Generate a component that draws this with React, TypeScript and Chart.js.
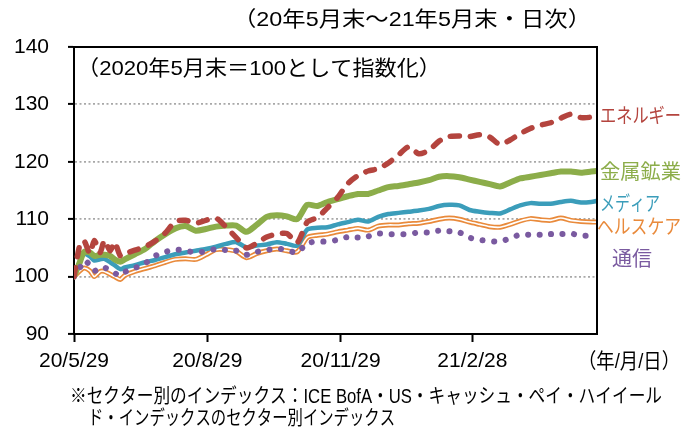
import React, { useEffect, useRef } from "react";
import { Chart, registerables } from "chart.js";

Chart.register(...registerables);

const dates = [
  "2020-05-29", "2020-06-02", "2020-06-05", "2020-06-09", "2020-06-12", "2020-06-16", "2020-06-19",
  "2020-06-23", "2020-06-26", "2020-06-30", "2020-07-03", "2020-07-10", "2020-07-17", "2020-07-24",
  "2020-07-31", "2020-08-07", "2020-08-14", "2020-08-21", "2020-08-28", "2020-09-04", "2020-09-11",
  "2020-09-18", "2020-09-25", "2020-10-02", "2020-10-09", "2020-10-16", "2020-10-23", "2020-10-30",
  "2020-11-06", "2020-11-13", "2020-11-20", "2020-11-27", "2020-12-04", "2020-12-11", "2020-12-18",
  "2020-12-25", "2021-01-01", "2021-01-08", "2021-01-15", "2021-01-22", "2021-01-29", "2021-02-05",
  "2021-02-12", "2021-02-19", "2021-02-26", "2021-03-05", "2021-03-12", "2021-03-19", "2021-03-26",
  "2021-04-02", "2021-04-09", "2021-04-16", "2021-04-23", "2021-04-30", "2021-05-07", "2021-05-14",
  "2021-05-21", "2021-05-25",
];

const energy = [
  100, 105.5, 106.2, 104.0, 106.3, 104.2, 106.3, 104.5, 106.0, 103.6, 104.0, 104.6, 105.2, 106.2,
  107.6, 109.6, 109.8, 109.3, 109.8, 110.2, 108.6, 106.8, 105.0, 105.8, 106.9, 107.4, 107.5, 105.9,
  109.5, 110.3, 112.0, 113.8, 116.2, 117.6, 118.4, 118.8, 119.8, 121.2, 122.6, 121.4, 122.0, 123.6,
  124.4, 124.5, 124.4, 124.7, 124.3, 123.0, 123.8, 124.9, 125.8, 126.4, 126.8, 127.6, 128.3, 127.7,
  127.8, 128.4,
];
const metals = [
  100, 102.5, 104.3, 104.2, 103.6, 103.8, 103.8, 103.6, 103.0, 102.6, 103.0, 103.9, 104.8, 106.2,
  107.4, 108.4, 108.8, 108.0, 108.3, 108.7, 108.9, 108.9, 107.8, 109.0, 110.4, 110.7, 110.5, 110.0,
  112.5, 112.3, 113.0, 113.5, 114.0, 114.4, 114.4, 115.0, 115.6, 115.8, 116.1, 116.4, 116.8, 117.4,
  117.5, 117.3, 116.9, 116.5, 116.1, 115.7, 116.4, 117.1, 117.4, 117.7, 118.0, 118.3, 118.3, 118.1,
  118.3, 118.4,
];
const media = [
  100, 102.5, 104.0, 103.5, 102.8, 103.0, 103.1, 102.5, 102.0, 101.3, 101.6, 102.0, 102.5, 102.9,
  103.4, 103.9, 104.2, 104.5, 104.8, 105.2, 105.7, 106.0, 105.1, 105.4, 105.6, 106.0, 105.7, 105.4,
  108.2, 108.5, 108.6, 109.1, 109.5, 109.9, 109.6, 110.4, 110.9, 111.1, 111.3, 111.5, 111.8, 112.3,
  112.5, 112.4, 111.6, 111.3, 111.1, 111.0, 111.7, 112.4, 112.8, 112.7, 112.7, 113.0, 113.2, 112.9,
  113.0, 113.2,
];
const healthcare = [
  100, 101.0, 101.5, 101.0, 100.0, 100.9, 100.9, 100.4, 100.0, 99.5, 100.2, 100.9, 101.4, 101.9,
  102.5, 103.0, 103.1, 103.0, 103.8, 104.7, 104.7, 104.4, 103.3, 104.0, 104.5, 104.8, 104.5, 104.3,
  106.8, 107.2, 107.4, 107.8, 108.1, 108.4, 108.1, 108.8, 109.0, 109.0, 109.2, 109.3, 109.6, 110.0,
  110.2, 110.0, 109.5, 109.1, 108.7, 108.6, 109.1, 109.7, 110.1, 109.9, 109.8, 110.2, 109.8, 109.6,
  109.5, 109.5,
];
const telecom = [
  100, 101.5, 102.8, 102.0, 101.0, 101.5, 101.6, 101.0, 100.6, 100.2, 100.8, 101.5, 102.3, 103.6,
  104.3, 104.7, 104.5, 104.2, 104.4, 104.8, 104.6, 104.5, 103.8, 104.3, 104.6, 104.9, 104.6, 104.2,
  105.8, 106.1, 106.1, 106.4, 106.9, 106.8, 107.0, 107.5, 107.4, 107.4, 107.4, 107.7, 107.7, 108.0,
  107.9, 107.7, 106.8, 106.4, 106.2, 106.1, 106.7, 107.3, 107.3, 107.3, 107.4, 107.4, 107.5, 107.1,
  107.2, 107.2,
];

const tickDates = ["2020-05-29", "2020-08-29", "2020-11-29", "2021-02-28"];
const tickLabels = ["20/5/29", "20/8/29", "20/11/29", "21/2/28"];
const axisEndDate = "2021-05-25";
const yTicks = [90, 100, 110, 120, 130, 140];

const seriesNames = ["エネルギー", "金属鉱業", "メディア", "ヘルスケア", "通信"];

const DAY = 86400000;
const dayOf = (s: string) => Math.round((Date.parse(s) - Date.parse(dates[0])) / DAY);
const days = dates.map(dayOf);
const tickDays = tickDates.map(dayOf);
const pts = (arr: number[]) => arr.map((v, i) => ({ x: days[i], y: v }));

const C_ENERGY = "#b4443e";
const C_METALS = "#8cad4a";
const C_MEDIA = "#3b9dba";
const C_HEALTH = "#e98a3b";
const C_TELE = "#7a5aa0";

const JP = '"Liberation Sans", "Noto Sans CJK JP", sans-serif';

function fitText(
  ctx: CanvasRenderingContext2D,
  text: string,
  x: number,
  y: number,
  size: number,
  color: string,
  width: number,
  align: "left" | "right" = "left"
) {
  ctx.save();
  ctx.font = `${size}px ${JP}`;
  ctx.fillStyle = color;
  ctx.textBaseline = "middle";
  ctx.textAlign = "left";
  const w = ctx.measureText(text).width;
  const sx = width / w;
  const left = align === "left" ? x : x - width;
  ctx.translate(left, y);
  ctx.scale(sx, 1);
  ctx.fillText(text, 0, 0);
  ctx.restore();
}

const overlay = {
  id: "overlay",
  afterDraw(chart: any) {
    const { ctx, chartArea: a } = chart;
    ctx.save();
    ctx.strokeStyle = "#000";
    ctx.lineWidth = 2;
    ctx.beginPath();
    ctx.moveTo(a.left, a.top);
    ctx.lineTo(a.right, a.top);
    ctx.lineTo(a.right, a.bottom);
    ctx.stroke();
    ctx.restore();

    fitText(ctx, "（20年5月末～21年5月末・日次）", 591, 20, 21, "#000", 358, "right");
    fitText(ctx, "（2020年5月末＝100として指数化）", 77, 69, 21, "#000", 364);
    fitText(ctx, seriesNames[0], 600, 117, 20, C_ENERGY, 81);
    fitText(ctx, seriesNames[1], 600, 173, 20, C_METALS, 81);
    fitText(ctx, seriesNames[2], 600, 205, 20, C_MEDIA, 60);
    fitText(ctx, seriesNames[3], 597, 228, 20, C_HEALTH, 84);
    fitText(ctx, seriesNames[4], 612, 260, 20, C_TELE, 40);
    fitText(ctx, "（年/月/日）", 578, 362, 21, "#000", 102);
    fitText(ctx, "※セクター別のインデックス：ICE BofA・US・キャッシュ・ペイ・ハイイール", 70, 397, 20, "#000", 592);
    fitText(ctx, "ド・インデックスのセクター別インデックス", 88, 419, 20, "#000", 307);
  },
};

export default function App() {
  const ref = useRef<HTMLCanvasElement | null>(null);
  useEffect(() => {
    if (!ref.current) return;
    const common = { pointRadius: 0, tension: 0.25, borderJoinStyle: "round" as const, fill: false };
    const chart = new Chart(ref.current, {
      type: "line",
      data: {
        datasets: [
          { ...common, label: seriesNames[0], data: pts(energy), borderColor: C_ENERGY, borderWidth: 5.5, borderDash: [9, 11], borderCapStyle: "round", order: 0 },
          { ...common, label: seriesNames[4], data: pts(telecom), borderColor: C_TELE, borderWidth: 6, borderDash: [0.1, 11.5], borderCapStyle: "round", order: 1 },
          { ...common, label: seriesNames[1], data: pts(metals), borderColor: C_METALS, borderWidth: 6, borderCapStyle: "round", order: 2 },
          { ...common, label: seriesNames[2], data: pts(media), borderColor: C_MEDIA, borderWidth: 4.5, borderCapStyle: "round", order: 3 },
          { ...common, label: "", data: pts(healthcare), borderColor: "#ffffff", borderWidth: 1.6, order: 4 },
          { ...common, label: seriesNames[3], data: pts(healthcare), borderColor: C_HEALTH, borderWidth: 5, order: 5 },
        ],
      },
      options: {
        animation: false,
        responsive: false,
        maintainAspectRatio: false,
        layout: { padding: { top: 47, right: 84, left: 0, bottom: 0 } },
        plugins: { legend: { display: false }, tooltip: { enabled: false }, title: { display: false } },
        scales: {
          x: {
            type: "linear",
            min: 0,
            max: dayOf(axisEndDate),
            afterBuildTicks: (s: any) => {
              s.ticks = tickDays.map((v) => ({ value: v }));
            },
            afterFit: (s: any) => {
              s.height = 100;
            },
            ticks: {
              autoSkip: false,
              maxRotation: 0,
              padding: 7,
              color: "#000",
              font: { family: "Liberation Sans", size: 21 },
              callback: (v: any) => {
                const i = tickDays.indexOf(Number(v));
                return i >= 0 ? tickLabels[i] : "";
              },
            },
            grid: { drawOnChartArea: false, drawTicks: true, tickLength: 8, tickColor: "#000", tickWidth: 2 },
            border: { color: "#000", width: 2 },
          },
          y: {
            min: yTicks[0],
            max: yTicks[yTicks.length - 1],
            afterBuildTicks: (s: any) => {
              s.ticks = yTicks.map((v) => ({ value: v }));
            },
            afterFit: (s: any) => {
              s.width = 74;
            },
            ticks: {
              padding: 19,
              color: "#000",
              font: { family: "Liberation Sans", size: 21 },
            },
            grid: {
              color: (c: any) => (c.tick && (c.tick.value === 90 || c.tick.value === 140) ? "rgba(0,0,0,0)" : "#a8a8a8"),
              lineWidth: 1.8,
              drawTicks: true,
              tickLength: 6,
              tickColor: "#000",
              tickWidth: 2,
            },
            border: { color: "#000", width: 2, dash: [2, 2.5] },
          },
        },
      },
      plugins: [overlay],
    });
    return () => chart.destroy();
  }, []);
  return (
    <div style={{ position: "fixed", left: 0, top: 0, width: 681, height: 434, background: "#fff" }}>
      <canvas ref={ref} width={681} height={434} />
    </div>
  );
}
